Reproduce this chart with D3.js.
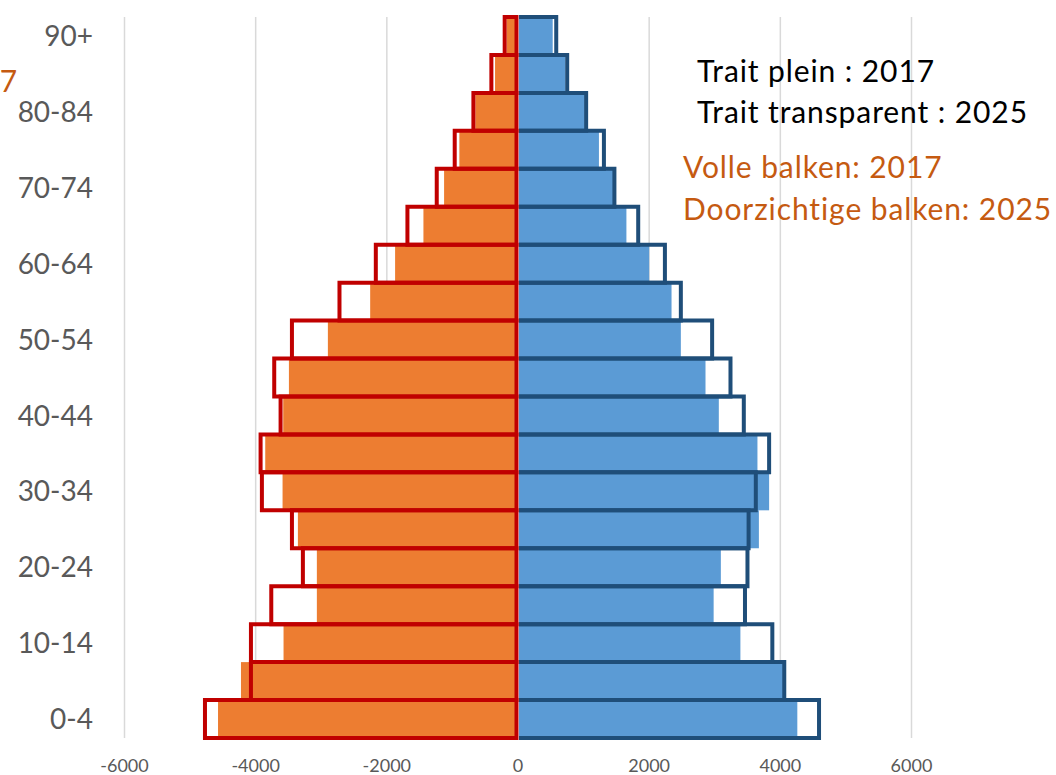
<!DOCTYPE html>
<html>
<head>
    <meta charset="utf-8">
    <title>Pyramide 2017 / 2025</title>
    <script src="https://d3js.org/d3.v7.min.js"></script>
    <style>
        body { margin: 0; background: #fff; }
        svg { display: block; font-family: 'Lato', 'Open Sans', sans-serif; }
        .grid line { stroke: #d9d9d9; stroke-width: 1.5; }
        .age-label { font-size: 28px; fill: #595959; }
        .tick-label { font-size: 18px; fill: #595959; }
        .note-fr { font-size: 30px; fill: #000; letter-spacing: 0.9px; }
        .note-nl { font-size: 30px; fill: #c55a11; letter-spacing: 0.9px; }
    </style>
</head>
<body>
    <svg width="1056" height="775"></svg>
    <script>
        // age groups, bottom to top
        const ageGroups = ["0-4", "5-9", "10-14", "15-19", "20-24", "25-29", "30-34", "35-39", "40-44",
            "45-49", "50-54", "55-59", "60-64", "65-69", "70-74", "75-79", "80-84", "85-89", "90+"];

        // left side (orange / red)
        const left2017 = [4574, 4224, 3575, 3067, 3067, 3356, 3590, 3854, 3580, 3493, 2899, 2254, 1874, 1442, 1127, 894, 650, 350, 172];
        const left2025 = [4773, 4072, 4072, 3762, 3280, 3447, 3905, 3925, 3620, 3717, 3447, 2722, 2168, 1686, 1239, 965, 680, 406, 203];

        // right side (blue)
        const right2017 = [4259, 4040, 3391, 2983, 3093, 3673, 3829, 3651, 3062, 2859, 2483, 2341, 2000, 1653, 1450, 1234, 1017, 720, 529];
        const right2025 = [4590, 4060, 3878, 3461, 3499, 3516, 3626, 3829, 3443, 3240, 2960, 2483, 2240, 1833, 1470, 1310, 1039, 750, 583];

        const xTicks = [-6000, -4000, -2000, 0, 2000, 4000, 6000];
        const shownLabels = ["0-4", "10-14", "20-24", "30-34", "40-44", "50-54", "60-64", "70-74", "80-84", "90+"];

        const notesFr = ["Trait plein : 2017", "Trait transparent : 2025"];
        const notesNl = ["Volle balken: 2017", "Doorzichtige balken: 2025"];

        const plotTop = 17, plotBottom = 738;

        let svg = d3.select("svg");

        let x = d3.scaleLinear()
                  .domain([-6000, 6000])
                  .range([124.5, 911.5]);

        let y = d3.scaleBand()
                  .domain(ageGroups)
                  .range([plotBottom, plotTop])
                  .padding(0);

        const x0 = x(0);

        // gridlines
        svg.append("g")
           .attr("class", "grid")
           .selectAll("line")
           .data(xTicks.filter(t => t !== 0))
           .join("line")
           .attr("x1", d => x(d)).attr("x2", d => x(d))
           .attr("y1", plotTop).attr("y2", plotBottom);

        // filled bars 2017
        svg.append("g")
           .selectAll("rect")
           .data(ageGroups)
           .join("rect")
           .attr("x", (d, i) => x(-left2017[i]))
           .attr("width", (d, i) => x0 - 1 - x(-left2017[i]))
           .attr("y", d => y(d))
           .attr("height", y.bandwidth())
           .attr("fill", "#ed7d31");

        svg.append("g")
           .selectAll("rect")
           .data(ageGroups)
           .join("rect")
           .attr("x", x0 + 1)
           .attr("width", (d, i) => x(right2017[i]) - x0 - 1)
           .attr("y", d => y(d))
           .attr("height", y.bandwidth())
           .attr("fill", "#5b9bd5");

        // outline bars 2025
        svg.append("g")
           .selectAll("path")
           .data(ageGroups)
           .join("path")
           .attr("d", (d, i) => {
               let t = y(d), b = y(d) + y.bandwidth(), xv = x(-left2025[i]);
               return `M${x0 - 1.5},${t}H${xv}V${b}H${x0 - 1.5}Z`;
           })
           .attr("fill", "none")
           .attr("stroke", "#c00000")
           .attr("stroke-width", 4);

        svg.append("g")
           .selectAll("path")
           .data(ageGroups)
           .join("path")
           .attr("d", (d, i) => {
               let t = y(d), b = y(d) + y.bandwidth(), xv = x(right2025[i]);
               return `M${x0 + 1},${t}H${xv}V${b}H${x0 + 1}`;
           })
           .attr("fill", "none")
           .attr("stroke", "#1f4e79")
           .attr("stroke-width", 4);

        // age labels
        svg.append("g")
           .selectAll("text")
           .data(shownLabels)
           .join("text")
           .attr("class", "age-label")
           .attr("x", 93)
           .attr("y", d => y(d) + y.bandwidth() / 2)
           .attr("dy", "0.36em")
           .attr("text-anchor", "end")
           .text(d => d);

        // x tick labels
        svg.append("g")
           .selectAll("text")
           .data(xTicks)
           .join("text")
           .attr("class", "tick-label")
           .attr("x", d => x(d))
           .attr("y", 772)
           .attr("text-anchor", "middle")
           .text(d => d);

        // notes
        svg.append("g")
           .selectAll("text")
           .data(notesFr)
           .join("text")
           .attr("class", "note-fr")
           .attr("x", 697)
           .attr("y", (d, i) => 82 + i * 41)
           .text(d => d);

        svg.append("g")
           .selectAll("text")
           .data(notesNl)
           .join("text")
           .attr("class", "note-nl")
           .attr("x", 683)
           .attr("y", (d, i) => 178 + i * 42)
           .text(d => d);

        // clipped remnant of a label at the left edge
        svg.append("text")
           .attr("class", "note-nl")
           .attr("x", 18)
           .attr("y", 92)
           .attr("text-anchor", "end")
           .text("7");
    </script>
</body>
</html>
